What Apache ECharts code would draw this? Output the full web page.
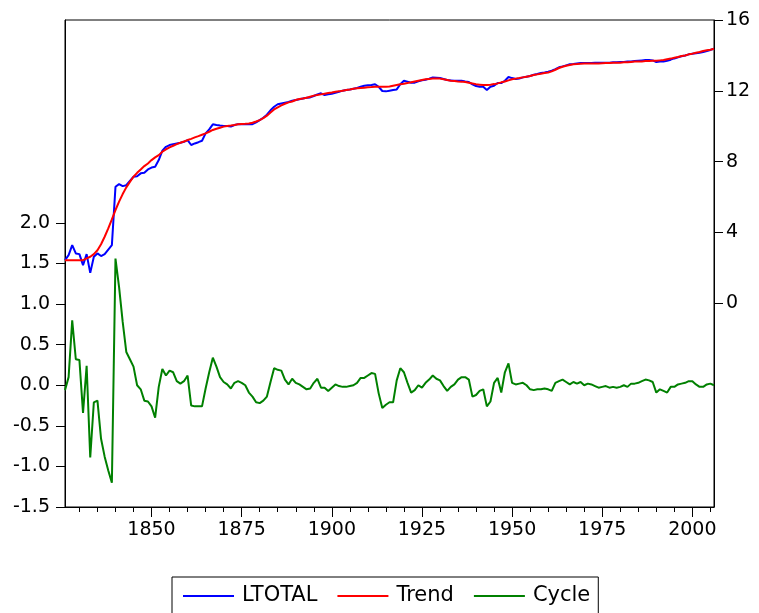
<!DOCTYPE html>
<html>
<head>
<meta charset="utf-8">
<script src="https://cdn.jsdelivr.net/npm/echarts@6/dist/echarts.min.js"></script>
<style>
  html, body { margin: 0; padding: 0; background: #fff; }
  #chart { width: 759px; height: 613px; }
</style>
</head>
<body>
<div id="chart"></div>
<script>
// Hodrick-Prescott filter output, annual 1826-2006
var firstYear = 1826;

var ltotal = [
  2.44, 2.72, 3.29, 2.82, 2.78, 2.16, 2.78, 1.72, 2.63, 2.82,
  2.67, 2.78, 3.04, 3.29, 6.58, 6.73, 6.62, 6.67, 6.92, 7.15,
  7.18, 7.34, 7.37, 7.56, 7.67, 7.71, 8.09, 8.62, 8.84, 8.94,
  8.99, 9.03, 9.07, 9.12, 9.22, 8.94, 9.03, 9.10, 9.18, 9.60,
  9.82, 10.11, 10.07, 10.04, 10.02, 10.02, 9.98, 10.07, 10.12, 10.11,
  10.11, 10.11, 10.12, 10.22, 10.35, 10.48, 10.65, 10.90, 11.10, 11.24,
  11.29, 11.33, 11.37, 11.44, 11.48, 11.52, 11.57, 11.61, 11.63, 11.71,
  11.80, 11.86, 11.76, 11.80, 11.84, 11.89, 11.95, 12.01, 12.05, 12.08,
  12.12, 12.16, 12.23, 12.29, 12.31, 12.33, 12.37, 12.23, 11.99, 11.97,
  12.01, 12.05, 12.08, 12.37, 12.57, 12.52, 12.46, 12.46, 12.54, 12.59,
  12.63, 12.69, 12.76, 12.74, 12.72, 12.67, 12.61, 12.59, 12.57, 12.57,
  12.57, 12.53, 12.50, 12.37, 12.27, 12.23, 12.23, 12.05, 12.23, 12.29,
  12.44, 12.44, 12.57, 12.78, 12.72, 12.67, 12.70, 12.76, 12.80, 12.84,
  12.91, 12.95, 13.01, 13.04, 13.08, 13.14, 13.23, 13.33, 13.38, 13.44,
  13.50, 13.51, 13.55, 13.57, 13.57, 13.57, 13.57, 13.59, 13.59, 13.59,
  13.59, 13.59, 13.61, 13.61, 13.63, 13.63, 13.65, 13.66, 13.68, 13.70,
  13.72, 13.74, 13.74, 13.72, 13.63, 13.65, 13.66, 13.70, 13.76, 13.83,
  13.89, 13.95, 14.00, 14.06, 14.10, 14.12, 14.15, 14.19, 14.25, 14.31,
  14.38
];

var trend = [
  2.44, 2.44, 2.43, 2.43, 2.43, 2.44, 2.54, 2.63, 2.78, 3.00,
  3.34, 3.76, 4.23, 4.74, 5.27, 5.74, 6.17, 6.55, 6.86, 7.15,
  7.37, 7.56, 7.75, 7.90, 8.09, 8.24, 8.37, 8.56, 8.69, 8.81,
  8.90, 8.99, 9.07, 9.14, 9.22, 9.29, 9.37, 9.44, 9.52, 9.60,
  9.69, 9.79, 9.86, 9.92, 9.98, 10.02, 10.04, 10.07, 10.11, 10.13,
  10.14, 10.16, 10.20, 10.27, 10.35, 10.46, 10.60, 10.78, 10.95, 11.07,
  11.18, 11.27, 11.35, 11.40, 11.48, 11.54, 11.57, 11.61, 11.67, 11.73,
  11.76, 11.80, 11.84, 11.88, 11.91, 11.95, 11.97, 12.01, 12.05, 12.08,
  12.12, 12.14, 12.16, 12.18, 12.20, 12.21, 12.23, 12.23, 12.23, 12.23,
  12.25, 12.29, 12.33, 12.37, 12.40, 12.44, 12.48, 12.53, 12.57, 12.61,
  12.65, 12.67, 12.69, 12.70, 12.69, 12.65, 12.61, 12.57, 12.55, 12.53,
  12.52, 12.50, 12.46, 12.42, 12.37, 12.35, 12.33, 12.33, 12.35, 12.38,
  12.42, 12.48, 12.53, 12.59, 12.65, 12.69, 12.72, 12.76, 12.80, 12.84,
  12.89, 12.93, 12.97, 13.01, 13.04, 13.10, 13.19, 13.29, 13.36, 13.42,
  13.46, 13.50, 13.51, 13.53, 13.55, 13.55, 13.55, 13.55, 13.55, 13.56,
  13.57, 13.57, 13.58, 13.59, 13.59, 13.61, 13.61, 13.63, 13.65, 13.65,
  13.66, 13.68, 13.68, 13.70, 13.70, 13.72, 13.74, 13.78, 13.82, 13.87,
  13.91, 13.97, 14.00, 14.06, 14.10, 14.15, 14.19, 14.25, 14.29, 14.32,
  14.38
];

var cycle = [
  -0.06, 0.10, 0.80, 0.32, 0.31, -0.34, 0.24, -0.89, -0.21, -0.19,
  -0.66, -0.88, -1.05, -1.20, 1.56, 1.21, 0.78, 0.41, 0.32, 0.23,
  0.00, -0.05, -0.19, -0.20, -0.26, -0.40, -0.02, 0.20, 0.12, 0.18,
  0.16, 0.05, 0.02, 0.05, 0.12, -0.25, -0.26, -0.26, -0.26, -0.04,
  0.16, 0.34, 0.23, 0.10, 0.04, 0.01, -0.04, 0.03, 0.05, 0.03,
  0.00, -0.09, -0.14, -0.21, -0.22, -0.19, -0.14, 0.04, 0.21, 0.19,
  0.18, 0.07, 0.01, 0.08, 0.03, 0.01, -0.02, -0.05, -0.04, 0.03,
  0.08, -0.03, -0.03, -0.07, -0.03, 0.01, -0.01, -0.02, -0.02, -0.01,
  0.00, 0.03, 0.09, 0.09, 0.12, 0.15, 0.14, -0.10, -0.28, -0.24,
  -0.21, -0.21, 0.06, 0.21, 0.16, 0.03, -0.09, -0.06, 0.00, -0.03,
  0.03, 0.07, 0.12, 0.08, 0.06, -0.01, -0.07, -0.02, 0.01, 0.07,
  0.10, 0.10, 0.07, -0.14, -0.12, -0.07, -0.05, -0.26, -0.20, 0.03,
  0.09, -0.09, 0.16, 0.27, 0.03, 0.01, 0.02, 0.03, 0.00, -0.05,
  -0.06, -0.05, -0.05, -0.04, -0.05, -0.07, 0.03, 0.05, 0.07, 0.04,
  0.01, 0.04, 0.02, 0.04, 0.00, 0.02, 0.01, -0.01, -0.03, -0.02,
  -0.01, -0.03, -0.02, -0.03, -0.02, 0.00, -0.02, 0.02, 0.02, 0.03,
  0.05, 0.07, 0.06, 0.04, -0.09, -0.05, -0.07, -0.09, -0.02, -0.02,
  0.01, 0.02, 0.03, 0.05, 0.05, 0.01, -0.02, -0.02, 0.01, 0.02,
  0.00
];

// axis labels / ticks
var yearLabels = [1850, 1875, 1900, 1925, 1950, 1975, 2000];
var yearMinorTicks = [1830, 1835, 1840, 1845, 1850, 1855, 1860, 1865, 1870, 1875, 1880,
  1885, 1890, 1895, 1900, 1905, 1910, 1915, 1920, 1925, 1930, 1935, 1940, 1945,
  1950, 1955, 1960, 1965, 1970, 1975, 1980, 1985, 1990, 1995, 2000, 2005];
var cycleTicks = [-1.5, -1.0, -0.5, 0.0, 0.5, 1.0, 1.5, 2.0];
var levelTicks = [0, 4, 8, 12, 16];

function pairs(arr) {
  return arr.map(function (v, i) { return [firstYear + i, v]; });
}

var chart = echarts.init(document.getElementById('chart'));
var font = 'DejaVu Sans';

chart.setOption({
  animation: false,
  backgroundColor: '#fff',
  grid: {
    left: 65, right: 45, top: 20, bottom: 106,
    show: true, borderColor: '#000', borderWidth: 1
  },
  legend: {
    left: 172, top: 577,
    padding: [7, 8, 12, 11],
    borderColor: '#000', borderWidth: 1,
    itemWidth: 51, itemHeight: 2, itemGap: 20,
    icon: 'rect',
    textStyle: { fontFamily: font, fontSize: 21, color: '#000', lineHeight: 24, padding: [0, 0, 0, 3] },
    data: ['LTOTAL', 'Trend', 'Cycle']
  },
  xAxis: [{
    type: 'value', min: 1826, max: 2006,
    splitLine: { show: false },
    axisLine: { show: true, onZero: false, lineStyle: { color: '#000', width: 1 } },
    axisTick: { show: true, length: 10, customValues: yearLabels, lineStyle: { color: '#000' } },
    axisLabel: {
      customValues: yearLabels, margin: 14,
      fontFamily: font, fontSize: 19, color: '#000',
      formatter: function (v) { return String(v); }
    }
  }, {
    type: 'value', min: 1826, max: 2006, position: 'bottom',
    splitLine: { show: false },
    axisLine: { show: false, onZero: false },
    axisTick: { show: true, length: 5, customValues: yearMinorTicks, lineStyle: { color: '#000' } },
    axisLabel: { show: false }
  }],
  yAxis: [{
    type: 'value', min: -1.5, max: 4.5, position: 'left',
    splitLine: { show: false },
    axisLine: { show: true, onZero: false, lineStyle: { color: '#000', width: 1 } },
    axisTick: { show: true, length: 9, customValues: cycleTicks, lineStyle: { color: '#000' } },
    axisLabel: {
      customValues: cycleTicks, margin: 15,
      fontFamily: font, fontSize: 19, color: '#000',
      formatter: function (v) { return v.toFixed(1); }
    }
  }, {
    type: 'value', min: -11.5, max: 16, position: 'right',
    splitLine: { show: false },
    axisLine: { show: true, onZero: false, lineStyle: { color: '#000', width: 1 } },
    axisTick: { show: true, length: 9, customValues: levelTicks, lineStyle: { color: '#000' } },
    axisLabel: {
      customValues: levelTicks, margin: 12,
      fontFamily: font, fontSize: 19, color: '#000',
      formatter: function (v) { return String(v); }
    }
  }],
  series: [{
    name: 'LTOTAL', type: 'line', xAxisIndex: 0, yAxisIndex: 1,
    data: pairs(ltotal), showSymbol: false, symbol: 'none',
    itemStyle: { color: '#0000FF' },
    lineStyle: { color: '#0000FF', width: 2 }, z: 2
  }, {
    name: 'Trend', type: 'line', xAxisIndex: 0, yAxisIndex: 1,
    data: pairs(trend), showSymbol: false, symbol: 'none',
    itemStyle: { color: '#FF0000' },
    lineStyle: { color: '#FF0000', width: 2 }, z: 3
  }, {
    name: 'Cycle', type: 'line', xAxisIndex: 0, yAxisIndex: 0,
    data: pairs(cycle), showSymbol: false, symbol: 'none',
    itemStyle: { color: '#008000' },
    lineStyle: { color: '#008000', width: 2 }, z: 2
  }]
});
</script>
</body>
</html>
